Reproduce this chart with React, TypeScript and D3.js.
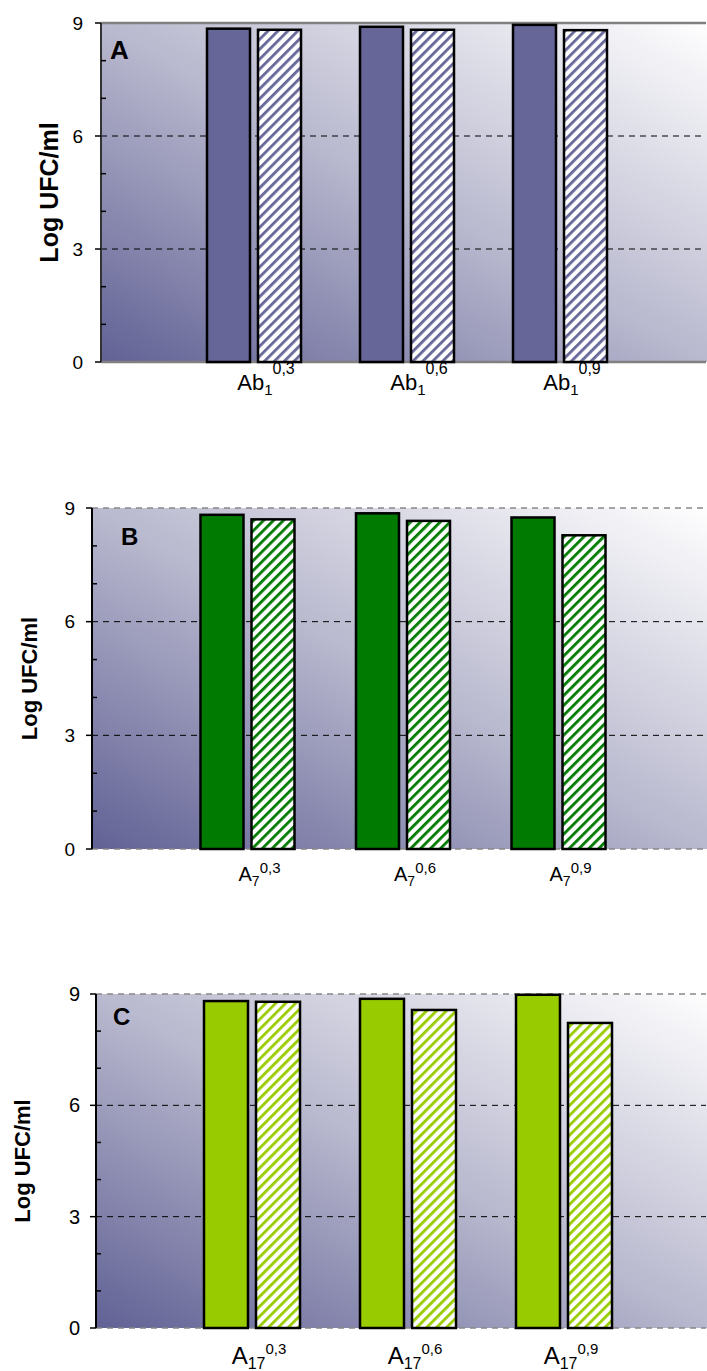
import React from "react";
import * as d3 from "d3";

// ---- data ----
const catBaseA = ["Ab", "Ab", "Ab"];
const catSubA = ["1", "1", "1"];
const catSupA = ["0,3", "0,6", "0,9"];
const solidA = [8.85, 8.9, 8.95];
const hatchA = [8.82, 8.82, 8.81];

const catBaseB = ["A", "A", "A"];
const catSubB = ["7", "7", "7"];
const catSupB = ["0,3", "0,6", "0,9"];
const solidB = [8.82, 8.86, 8.75];
const hatchB = [8.7, 8.66, 8.28];

const catBaseC = ["A", "A", "A"];
const catSubC = ["17", "17", "17"];
const catSupC = ["0,3", "0,6", "0,9"];
const solidC = [8.81, 8.87, 8.98];
const hatchC = [8.79, 8.57, 8.22];

const majorTicks = [0, 3, 6, 9];
const minorTicks = [1, 2, 4, 5, 7, 8];
const gridTicks = [3, 6];
const seriesKeys = ["solid", "hatch"];

const FONT = "'Liberation Sans', Arial, sans-serif";

type PanelCfg = {
  id: string;
  letter: string;
  color: string;
  base: string[];
  sub: string[];
  sup: string[];
  solid: number[];
  hatch: number[];
  left: number;
  top: number;
  bottom: number;
  spacing: number;
  half: number;
  pad: number;
  solidBorder: boolean;
  axisColor: string;
  tickFont: number;
  tickOffset: number;
  ylabelX: number;
  ylabelFont: number;
  letterX: number;
  letterY: number;
  letterFont: number;
  labelDx: number;
  baseFont: number;
  subFont: number;
  supFont: number;
  baseY: number;
  subY: number;
  supY: number;
};

const panels: PanelCfg[] = [
  {
    id: "A", letter: "A", color: "#666699",
    base: catBaseA, sub: catSubA, sup: catSupA, solid: solidA, hatch: hatchA,
    left: 101, top: 23, bottom: 362, spacing: 153, half: 47, pad: 0.157,
    solidBorder: true, axisColor: "#333", tickFont: 19, tickOffset: 18,
    ylabelX: 58, ylabelFont: 25, letterX: 110, letterY: 59, letterFont: 26,
    labelDx: 12, baseFont: 22, subFont: 15, supFont: 16, baseY: 390, subY: 395, supY: 374,
  },
  {
    id: "B", letter: "B", color: "#007a00",
    base: catBaseB, sub: catSubB, sup: catSupB, solid: solidB, hatch: hatchB,
    left: 92, top: 508, bottom: 849, spacing: 155.5, half: 47, pad: 0.157,
    solidBorder: false, axisColor: "#000", tickFont: 19, tickOffset: 17,
    ylabelX: 37, ylabelFont: 22, letterX: 121, letterY: 545, letterFont: 24,
    labelDx: 12, baseFont: 20, subFont: 14, supFont: 15, baseY: 881, subY: 886, supY: 873,
  },
  {
    id: "C", letter: "C", color: "#99cc00",
    base: catBaseC, sub: catSubC, sup: catSupC, solid: solidC, hatch: hatchC,
    left: 96, top: 994, bottom: 1328, spacing: 156, half: 48, pad: 0.154,
    solidBorder: false, axisColor: "#000", tickFont: 20, tickOffset: 16,
    ylabelX: 30, ylabelFont: 22, letterX: 113, letterY: 1025, letterFont: 24,
    labelDx: 7, baseFont: 24, subFont: 16, supFont: 15, baseY: 1364, subY: 1369, supY: 1354,
  },
];

function Panel({ p }: { p: PanelCfg }) {
  const y = d3.scaleLinear().domain([0, 9]).range([p.bottom, p.top]);
  const x = d3.scaleLinear().domain([0, 4]).range([p.left, p.left + 4 * p.spacing]);
  const inner = d3.scaleBand<string>().domain(seriesKeys).range([-p.half, p.half]).paddingInner(p.pad);
  const right = Math.min(p.left + 4 * p.spacing, 706);
  const bw = inner.bandwidth();
  const borderProps = p.solidBorder
    ? { stroke: "#808080", strokeWidth: 2.5 }
    : { stroke: "#888", strokeWidth: 1.5, strokeDasharray: "6,5" };
  return (
    <g>
      <defs>
        <linearGradient id={`bg${p.id}`} x1="0" y1="1" x2="1" y2="0">
          <stop offset="0" stopColor="#616195" />
          <stop offset="0.5" stopColor="#b9b9cf" />
          <stop offset="1" stopColor="#ffffff" />
        </linearGradient>
        <pattern id={`hatch${p.id}`} patternUnits="userSpaceOnUse" width="7" height="7" patternTransform="rotate(45)">
          <rect width="7" height="7" fill="#ffffff" />
          <rect width="2.8" height="7" fill={p.color} />
        </pattern>
      </defs>
      <rect x={p.left} y={p.top} width={4 * p.spacing} height={p.bottom - p.top} fill={`url(#bg${p.id})`} />
      {gridTicks.map((t) => (
        <line key={t} x1={p.left} x2={right} y1={y(t)} y2={y(t)} stroke="#000" strokeWidth={1} strokeDasharray="6,5" />
      ))}
      <line x1={p.left} x2={right} y1={y(9)} y2={y(9)} {...borderProps} />
      <line x1={p.left} x2={right} y1={y(0)} y2={y(0)} {...borderProps} />
      {p.solid.map((v, i) => {
        const cx = x(i + 1);
        return (
          <g key={i}>
            <rect x={cx + (inner("solid") as number)} y={y(v)} width={bw} height={y(0) - y(v)} fill={p.color} stroke="#000" strokeWidth={2.5} />
            <rect x={cx + (inner("hatch") as number)} y={y(p.hatch[i])} width={bw} height={y(0) - y(p.hatch[i])} fill={`url(#hatch${p.id})`} stroke="#000" strokeWidth={2.5} />
          </g>
        );
      })}
      <line x1={p.left} x2={p.left} y1={p.top} y2={p.bottom} stroke={p.axisColor} strokeWidth={2} />
      {majorTicks.map((t) => (
        <g key={t}>
          <line x1={p.left - 6} x2={p.left} y1={y(t)} y2={y(t)} stroke="#000" strokeWidth={1.5} />
          <text x={p.left - p.tickOffset} y={y(t)} dy="0.35em" textAnchor="end" fontFamily={FONT} fontSize={p.tickFont} fill="#000">{t}</text>
        </g>
      ))}
      {minorTicks.map((t) => (
        <line key={t} x1={p.left} x2={p.left + 5} y1={y(t)} y2={y(t)} stroke="#000" strokeWidth={1.5} />
      ))}
      <text x={p.letterX} y={p.letterY} fontFamily={FONT} fontWeight="bold" fontSize={p.letterFont}>{p.letter}</text>
      <text transform={`translate(${p.ylabelX},${(p.top + p.bottom) / 2}) rotate(-90)`} textAnchor="middle" fontFamily={FONT} fontWeight="bold" fontSize={p.ylabelFont}>Log UFC/ml</text>
      {p.base.map((b, i) => (
        <text key={i} x={x(i + 1) + p.labelDx} y={p.baseY} textAnchor="middle" fontFamily={FONT} fontSize={p.baseFont} fill="#000">
          <tspan>{b}</tspan>
          <tspan dy={p.subY - p.baseY} fontSize={p.subFont}>{p.sub[i]}</tspan>
          <tspan dy={p.supY - p.subY} fontSize={p.supFont}>{p.sup[i]}</tspan>
        </text>
      ))}
    </g>
  );
}

export default function App() {
  return (
    <svg width={707} height={1371} style={{ position: "absolute", left: 0, top: 0, background: "#fff" }}>
      <rect width={707} height={1371} fill="#fff" />
      {panels.map((p) => (
        <Panel key={p.id} p={p} />
      ))}
    </svg>
  );
}
